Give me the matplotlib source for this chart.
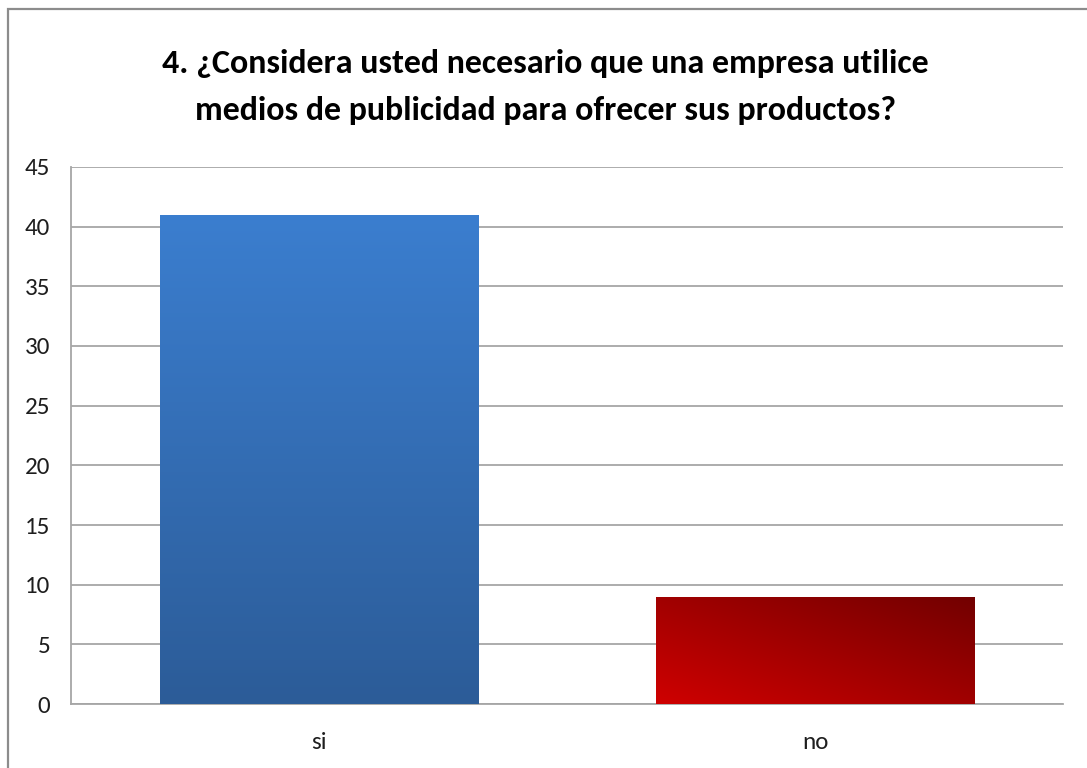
"""Bar chart: survey question 4, advertising media usage (si / no)."""

import matplotlib

matplotlib.use("Agg")
import matplotlib.pyplot as plt  # noqa: E402
import numpy as np  # noqa: E402
from matplotlib.colors import LinearSegmentedColormap  # noqa: E402
from matplotlib.patches import Rectangle  # noqa: E402

title = ("4. ¿Considera usted necesario que una empresa utilice\n"
         "medios de publicidad para ofrecer sus productos?")
categories = ["si", "no"]
counts = [41, 9]
y_ticks = [0, 5, 10, 15, 20, 25, 30, 35, 40, 45]

TITLE_FONT = ["Carlito", "TeX Gyre Heros Cn", "DejaVu Sans"]
TICK_FONT = ["Carlito", "Open Sans", "DejaVu Sans"]

blue_cmap = LinearSegmentedColormap.from_list("blue", ["#2c5c98", "#3b7ecf"])
red_cmap = LinearSegmentedColormap.from_list("red", ["#cf0000", "#720000"])


def fill_gradient(ax, bar, cmap, diagonal=False):
    x0, y0 = bar.get_x(), bar.get_y()
    w, h = bar.get_width(), bar.get_height()
    n = 200
    if diagonal:
        u = np.linspace(0, 1, n)
        xx, yy = np.meshgrid(u, u)
        grad = (xx + yy) / 2
    else:
        grad = np.linspace(0, 1, n)[:, None] * np.ones((1, 2))
    im = ax.imshow(grad, cmap=cmap, origin="lower", aspect="auto",
                   extent=(x0, x0 + w, y0, y0 + h), zorder=3)
    im.set_clip_path(bar)
    bar.set_facecolor("none")


fig = plt.figure(figsize=(10.87, 7.68), dpi=100)
ax = fig.add_axes([0.0653, 0.0833, 0.9127, 0.6993])

x = np.arange(len(categories))
bars = ax.bar(x, counts, width=0.643, color="none", edgecolor="none", zorder=3)
fill_gradient(ax, bars[0], blue_cmap)
fill_gradient(ax, bars[1], red_cmap, diagonal=True)

ax.set_xlim(-0.5, 1.5)
ax.set_ylim(0, 45)
ax.set_yticks(y_ticks)
ax.set_xticks(x)
ax.set_xticklabels(categories)
ax.yaxis.grid(True, color="#a6a6a6", linewidth=1.3, zorder=0)
ax.set_axisbelow(True)
ax.tick_params(axis="both", length=0, labelsize=18, labelcolor="#1e1e1e")
ax.tick_params(axis="y", pad=15)
ax.tick_params(axis="x", pad=20)
for lab in ax.get_xticklabels() + ax.get_yticklabels():
    lab.set_family(TICK_FONT)
for side in ("top", "right"):
    ax.spines[side].set_visible(False)
for side in ("left", "bottom"):
    ax.spines[side].set_color("#a6a6a6")
    ax.spines[side].set_linewidth(1.3)

fig.text(0.502, 0.887, title, ha="center", va="center", fontsize=24.5,
         fontweight="bold", family=TITLE_FONT, linespacing=1.75)

# outer chart frame
fig.add_artist(Rectangle((8 / 1087, -0.05), 1.2, 1 - 9 / 768 + 0.05,
                         transform=fig.transFigure, fill=False,
                         edgecolor="#8c8c8c", linewidth=1.6))

fig.savefig("out.png", dpi=100)
